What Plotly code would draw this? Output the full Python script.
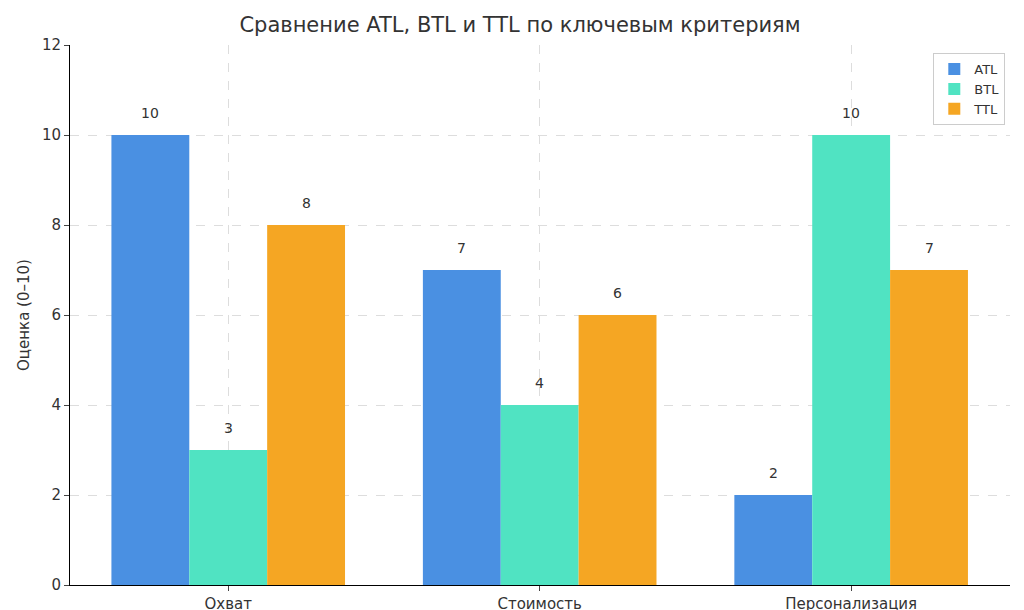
import plotly.graph_objects as go

categories = ["Охват", "Стоимость", "Персонализация"]
atl = [10, 7, 2]
btl = [3, 4, 10]
ttl = [8, 6, 7]
series = [("ATL", atl, "#4A90E2"), ("BTL", btl, "#50E3C2"), ("TTL", ttl, "#F5A623")]

fig = go.Figure()
for i, (name, vals, col) in enumerate(series):
    fig.add_trace(go.Bar(x=categories, y=vals, name=name, marker_color=col,
                         marker_line_width=0, offsetgroup=str(i)))
    for j, v in enumerate(vals):
        fig.add_annotation(x=j + (i - 1) * 0.25, y=v, text=str(v), showarrow=False,
                           yshift=22, font=dict(size=14, color="#333"), xref="x", yref="y")

fig.update_layout(
    width=1024, height=610, barmode="group", bargap=0.25, bargroupgap=0,
    plot_bgcolor="white", paper_bgcolor="white",
    font=dict(family="DejaVu Sans", color="#333"),
    margin=dict(l=62, r=22, t=37, b=33),
    title=dict(text="Сравнение ATL, BTL и TTL по ключевым критериям", x=0.5, xanchor="center",
               y=0.985, yanchor="top", font=dict(size=21, color="#333")),
    legend=dict(x=0.995, y=0.985, xanchor="right", yanchor="top", bordercolor="#ccc",
                borderwidth=1, bgcolor="white", font=dict(size=13), tracegroupgap=6),
    xaxis=dict(range=[-0.508, 2.51], showline=True, linecolor="black", ticks="outside",
               showgrid=True, gridcolor="#ddd", griddash="dash", tickfont=dict(size=15),
               automargin=False),
    yaxis=dict(range=[0, 12], dtick=2, showline=True, linecolor="black", ticks="outside",
               showgrid=True, gridcolor="#ddd", griddash="dash", tickfont=dict(size=15),
               title=dict(text="Оценка (0–10)", font=dict(size=15), standoff=8),
               zeroline=False, automargin=False),
)
fig.write_html("out.html")
